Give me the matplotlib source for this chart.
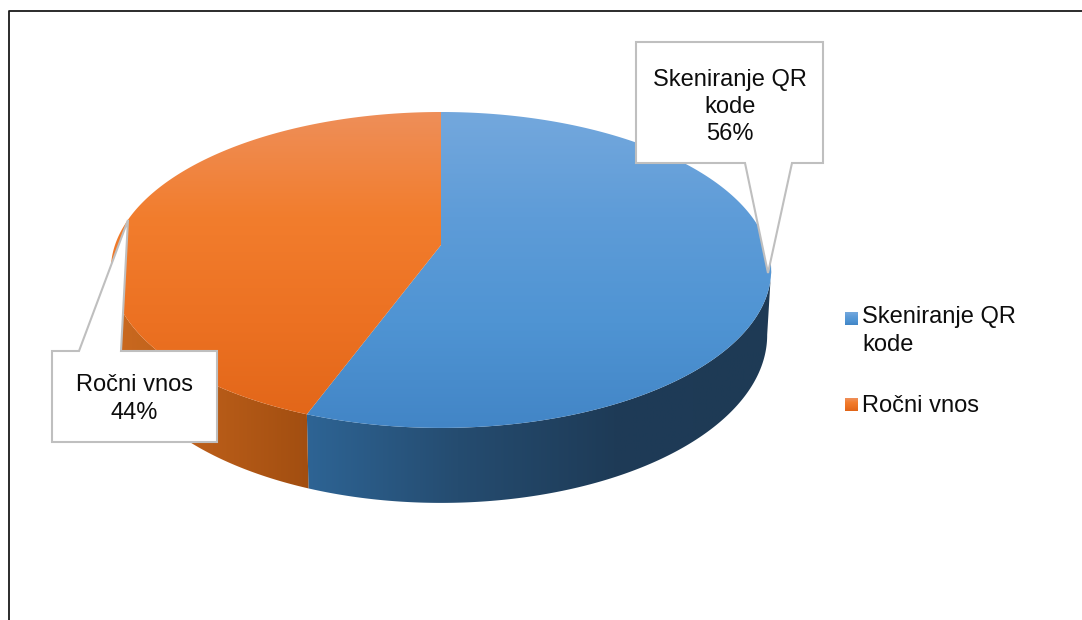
import numpy as np
import matplotlib
matplotlib.use("Agg")
import matplotlib.pyplot as plt
from matplotlib.colors import LinearSegmentedColormap
from matplotlib.patches import Polygon

categories = ["Skeniranje QR\nkode", "Ročni vnos"]
shares = [55.7, 44.3]
callout_names = ["Skeniranje QR\nkode", "Ročni vnos"]

FACE_COLORS = [
    ["#74A8DD", "#5E9CD8", "#4F94D3", "#4285C6"],
    ["#EE8F5A", "#F27D2D", "#EC7122", "#E16518"],
]
SIDE_COLORS = [
    ["#2E6596", "#254C70", "#1E3B57", "#1E3A55"],
    ["#CB6A20", "#B85C18", "#A04D10"],
]
SIDE_RANGE = [(300, 772), (110, 316)]

plt.rcParams["font.family"] = ["Liberation Sans", "DejaVu Sans"]
TEXT_SIZE = 17
LINE_GAP = 1.3

# projection of the pie disc, fitted to the reference in pixels
CX, R = 441, 326
PERSP, Y_A, Y_B = 0.158, -115.3, 245


def top_edge(theta):
    # theta in degrees, clockwise from twelve o'clock
    t = np.radians(theta)
    den = 1 + PERSP * np.cos(t)
    return CX + R * np.sin(t) / den, (Y_A * np.cos(t) + Y_B) / den


def bottom_edge(theta):
    x, y = top_edge(theta)
    return CX + (x - CX) * 0.988, 335 + (y - 270) * 168 / 158


def gradient(ax, colors, extent, horizontal, clip):
    cmap = LinearSegmentedColormap.from_list("g", colors)
    ramp = np.linspace(0, 1, 256)
    ramp = ramp[None, :] if horizontal else ramp[:, None]
    im = ax.imshow(ramp, cmap=cmap, extent=extent, aspect="auto", zorder=clip.get_zorder())
    ax.add_patch(clip)
    clip.set_visible(False)
    im.set_clip_path(clip)


def callout(ax, outline, text_xy, text):
    ax.add_patch(Polygon(outline, closed=True, facecolor="white",
                         edgecolor="#BFBFBF", linewidth=1.5, zorder=5))
    ax.text(text_xy[0], text_xy[1], text, ha="center", va="center",
            fontsize=TEXT_SIZE, linespacing=LINE_GAP, color="#0D0D0D", zorder=6)


def main():
    fig = plt.figure(figsize=(10.82, 6.2), dpi=100)
    ax = fig.add_axes([0, 0, 1, 1])

    edges = np.concatenate([[0], np.cumsum(shares)]) / sum(shares) * 360

    for i in range(len(shares)):
        start, end = edges[i], edges[i + 1]

        # visible wall: between the two widest points of the disc
        a, b = max(start, 99), min(end, 261)
        thetas = np.linspace(a, b, 200)
        xt, yt = top_edge(thetas)
        xb, yb = bottom_edge(thetas)
        wall = np.column_stack([np.r_[xt, xb[::-1]], np.r_[yt, yb[::-1]]])
        left, right = SIDE_RANGE[i]
        gradient(ax, SIDE_COLORS[i], (left, right, 510, 200), True,
                 Polygon(wall, closed=True, zorder=2 + i * 0.1))

    for i in range(len(shares)):
        thetas = np.linspace(edges[i], edges[i + 1], 300)
        xt, yt = top_edge(thetas)
        face = np.column_stack([np.r_[CX, xt], np.r_[Y_B, yt]])
        gradient(ax, FACE_COLORS[i], (100, 780, 430, 110), False,
                 Polygon(face, closed=True, zorder=3))

    callout(ax, [(636, 42), (823, 42), (823, 163), (792, 163), (768, 273), (745, 163), (636, 163)],
            (730, 107), f"{callout_names[0]}\n{round(shares[0])}%")
    callout(ax, [(52, 351), (79, 351), (128, 220), (121, 351), (217, 351), (217, 442), (52, 442)],
            (134, 399), f"{callout_names[1]}\n{round(shares[1])}%")

    # legend
    for i, (top, text_y) in enumerate([(312, 331), (398, 406)]):
        swatch = LinearSegmentedColormap.from_list("s", FACE_COLORS[i])
        ax.imshow(np.linspace(0, 1, 32)[:, None], cmap=swatch, aspect="auto",
                  extent=(845, 858, top + 13, top), zorder=4)
        ax.text(862, text_y, categories[i], ha="left", va="center",
                fontsize=TEXT_SIZE, linespacing=LINE_GAP, color="#0D0D0D")

    # frame of the pasted chart, only top and left are inside the crop
    ax.plot([9, 9, 1082], [620, 10.5, 10.5], color="#1A1A1A", linewidth=1.3, zorder=7)

    ax.set_xlim(0, 1082)
    ax.set_ylim(620, 0)
    ax.axis("off")
    fig.savefig("out.png", dpi=100, facecolor="white")


if __name__ == "__main__":
    main()
